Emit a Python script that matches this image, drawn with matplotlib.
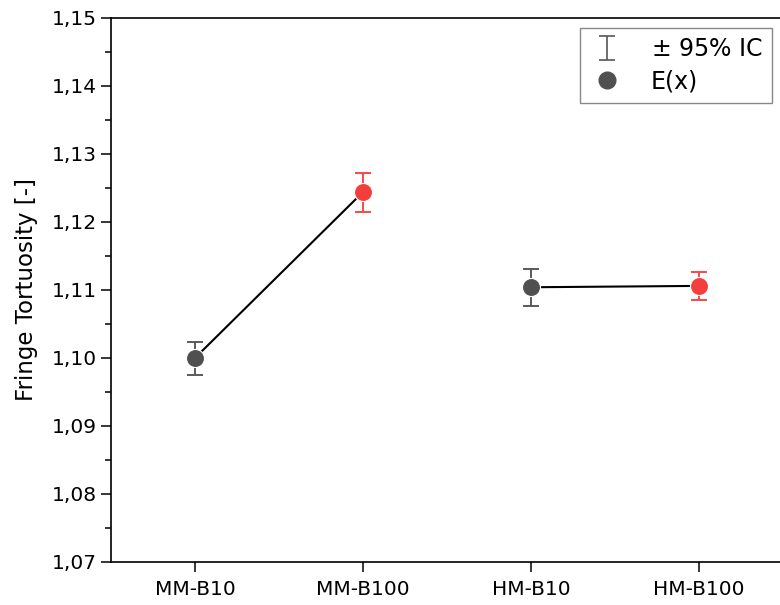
import matplotlib
matplotlib.use('Agg')
import matplotlib.pyplot as plt
from matplotlib.ticker import MultipleLocator, FuncFormatter
import numpy as np

plt.rcParams['font.family'] = ['DejaVu Sans']

# fringe tortuosity means with 95% confidence bounds
samples = ['MM-B10', 'MM-B100', 'HM-B10', 'HM-B100']
mean_vals = [1.1000, 1.1244, 1.1104, 1.1106]
ci_low = [1.0975, 1.1215, 1.1076, 1.1085]
ci_high = [1.1024, 1.1272, 1.1131, 1.1126]
point_colors = ['#505050', '#f43e3e', '#505050', '#f43e3e']
bar_colors = ['#5a5a5a', '#f44a4a', '#5a5a5a', '#f44a4a']
pairs = [(0, 1), (2, 3)]

fig = plt.figure(figsize=(7.8, 6.05), dpi=100)
ax = fig.add_axes([0.1423, 0.0711, 0.8615, 0.8992])

x = np.arange(len(samples))
mean_vals = np.array(mean_vals)
err = np.vstack([mean_vals - np.array(ci_low), np.array(ci_high) - mean_vals])

# connecting lines between the B10 and B100 variants
for a, b in pairs:
    ax.plot([x[a], x[b]], [mean_vals[a], mean_vals[b]], color='black', lw=1.5, zorder=1)

for i in range(len(samples)):
    ax.errorbar(x[i], mean_vals[i], yerr=err[:, i:i + 1], fmt='none',
                ecolor=bar_colors[i], elinewidth=1.4, capsize=6, capthick=1.4, zorder=2)
    ax.plot(x[i], mean_vals[i], 'o', color=point_colors[i], ms=13, mec='white', mew=0.8, zorder=3)

# legend handles (dummy errorbar outside the visible range so caps get drawn)
h_err = ax.errorbar([-5], [1.0], yerr=[0.01], fmt='none', ecolor='#555555', elinewidth=1.2,
                    capsize=6, capthick=1.2, label=r'$\pm$ 95% IC')
h_pt, = ax.plot([], [], 'o', color='#505050', ms=12, label='E(x)')
leg = ax.legend(handles=[h_err, h_pt], loc='upper right', bbox_to_anchor=(0.9836, 0.9816),
                borderaxespad=0, fancybox=False, edgecolor='#888888', fontsize=17,
                handlelength=1.5, handletextpad=1.1, borderpad=0.4, labelspacing=0.35,
                framealpha=1)
leg.get_frame().set_linewidth(1.0)

ax.set_xlim(-0.5, 3.5)
ax.set_ylim(1.07, 1.15)
ax.set_xticks(x)
ax.set_xticklabels(samples)
ax.yaxis.set_major_locator(MultipleLocator(0.01))
ax.yaxis.set_minor_locator(MultipleLocator(0.005))
ax.yaxis.set_major_formatter(FuncFormatter(lambda v, p: ('%.2f' % v).replace('.', ',')))

ax.tick_params(axis='both', which='major', direction='out', length=7, width=1.1,
               labelsize=14.5, pad=3, colors='black')
ax.tick_params(axis='y', which='minor', direction='out', length=4, width=1.1)
ax.tick_params(axis='x', which='major', pad=6)
for s in ax.spines.values():
    s.set_linewidth(1.2)

ax.set_ylabel('Fringe Tortuosity [-]', fontsize=16.5, labelpad=10)

fig.savefig('out.png', dpi=100)
